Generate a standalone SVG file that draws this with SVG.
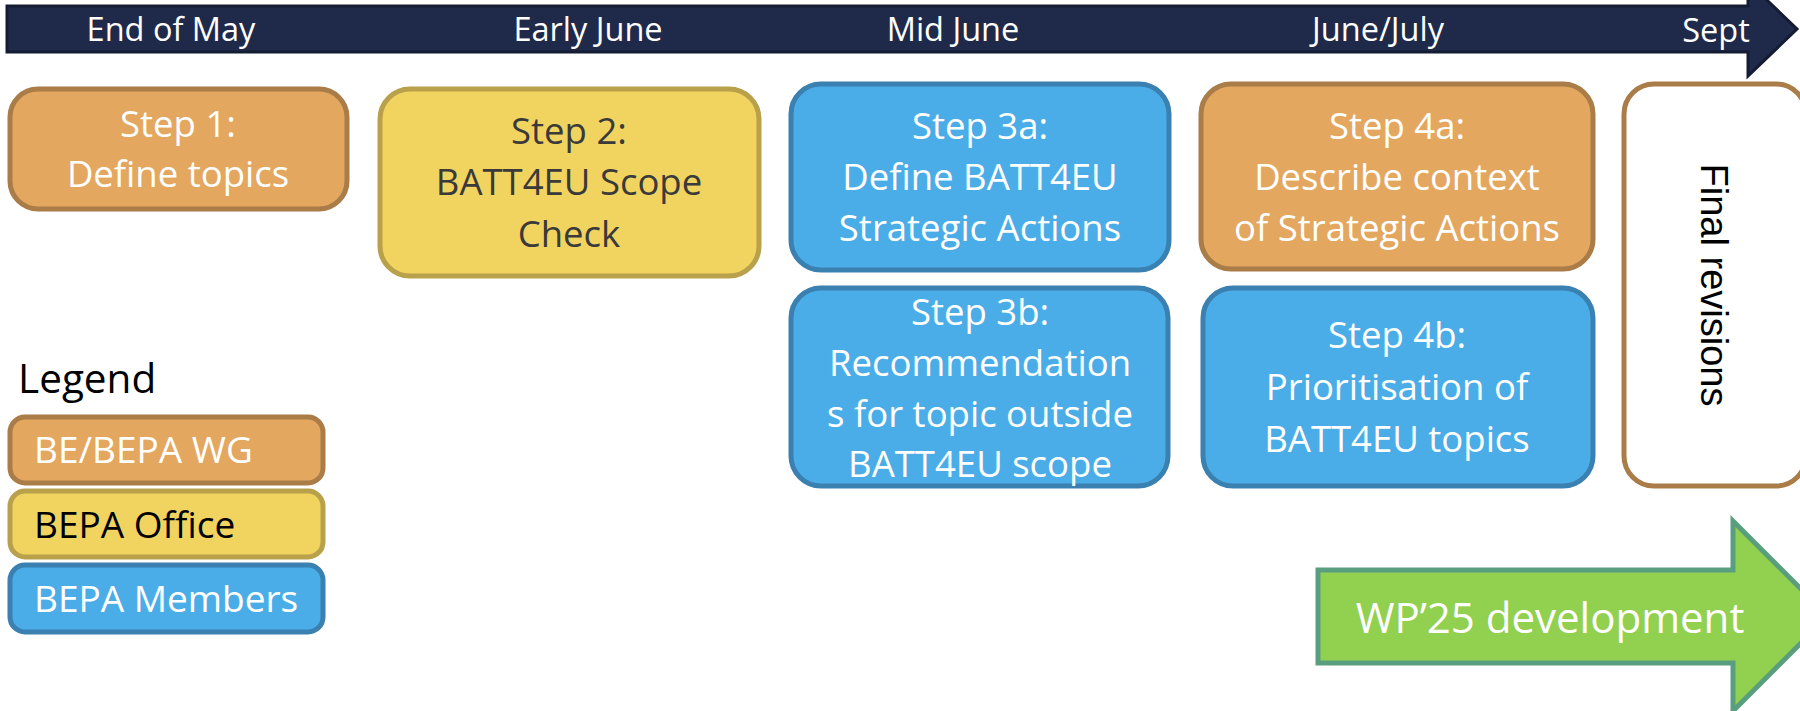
<svg xmlns="http://www.w3.org/2000/svg" width="1800" height="711" viewBox="0 0 1800 711">
<style>
  .t { font-family: "Open Sans", "Noto Sans", sans-serif; }
  .step { font-size: 36.5px; text-anchor: middle; fill: #ffffff; }
  .dark { fill: #3a3a3a; }
  .tl { font-size: 32.5px; text-anchor: middle; fill: #ffffff; }
  .orange { fill: #E3A75F; stroke: #A97C48; stroke-width: 5; }
  .yellow { fill: #F1D360; stroke: #B9A04A; stroke-width: 5; }
  .blue { fill: #4BADE8; stroke: #3A80B0; stroke-width: 5; }
  .leg { font-size: 37px; }
</style>

<g id="timeline">
  <polygon points="7,6 1748,6 1748,-18 1797,29 1748,76 1748,52 7,52" fill="#1F2A4A" stroke="#141C33" stroke-width="3"/>
  <text class="t tl" x="171" y="41">End of May</text>
  <text class="t tl" x="588" y="41">Early June</text>
  <text class="t tl" x="953" y="41">Mid June</text>
  <text class="t tl" x="1378" y="41">June/July</text>
  <text class="t tl" x="1716" y="42">Sept</text>
</g>

<g id="step1">
  <rect class="orange" x="10" y="89" width="337" height="120" rx="28"/>
  <text class="t step" x="178" y="137">Step 1:</text>
  <text class="t step" x="178" y="187">Define topics</text>
</g>

<g id="step2">
  <rect class="yellow" x="380" y="89" width="379" height="187" rx="30"/>
  <text class="t step dark" x="569" y="144">Step 2:</text>
  <text class="t step dark" x="569" y="195">BATT4EU Scope</text>
  <text class="t step dark" x="569" y="247">Check</text>
</g>

<g id="step3a">
  <rect class="blue" x="791" y="84" width="378" height="186" rx="30"/>
  <text class="t step" x="980" y="139">Step 3a:</text>
  <text class="t step" x="980" y="190">Define BATT4EU</text>
  <text class="t step" x="980" y="241">Strategic Actions</text>
</g>

<g id="step4a">
  <rect class="orange" x="1201" y="84" width="392" height="185" rx="30"/>
  <text class="t step" x="1397" y="139">Step 4a:</text>
  <text class="t step" x="1397" y="190">Describe context</text>
  <text class="t step" x="1397" y="241">of Strategic Actions</text>
</g>

<g id="step3b">
  <rect class="blue" x="791" y="288" width="377" height="198" rx="30"/>
  <text class="t step" x="980" y="325">Step 3b:</text>
  <text class="t step" x="980" y="376">Recommendation</text>
  <text class="t step" x="980" y="427">s for topic outside</text>
  <text class="t step" x="980" y="477">BATT4EU scope</text>
</g>

<g id="step4b">
  <rect class="blue" x="1203" y="288" width="390" height="198" rx="30"/>
  <text class="t step" x="1397" y="348">Step 4b:</text>
  <text class="t step" x="1397" y="400">Prioritisation of</text>
  <text class="t step" x="1397" y="452">BATT4EU topics</text>
</g>

<g id="final">
  <rect x="1624" y="84" width="182" height="402" rx="30" fill="#ffffff" stroke="#A97C48" stroke-width="5"/>
  <text x="0" y="0" transform="translate(1701,285) rotate(90)" font-family="Liberation Sans, Arial, sans-serif" font-size="38" text-anchor="middle" fill="#000000">Final revisions</text>
</g>

<g id="wp25">
  <polygon points="1318,570 1733,570 1733,521 1828,616 1733,711 1733,663 1318,663" fill="#92D050" stroke="#5A9E80" stroke-width="5"/>
  <text class="t" x="1550" y="633" font-size="42" text-anchor="middle" fill="#ffffff">WP’25 development</text>
</g>

<g id="legend">
  <text class="t" x="18" y="393" font-size="40.5" fill="#000000">Legend</text>
  <rect class="orange" x="10" y="417" width="313" height="66" rx="15" stroke-width="4"/>
  <text class="t leg" x="34" y="463" fill="#ffffff">BE/BEPA WG</text>
  <rect class="yellow" x="10" y="491" width="313" height="66" rx="15" stroke-width="4"/>
  <text class="t leg" x="34" y="538" fill="#000000">BEPA Office</text>
  <rect class="blue" x="10" y="565" width="313" height="67" rx="15" stroke-width="4"/>
  <text class="t leg" x="34" y="612" fill="#ffffff">BEPA Members</text>
</g>
</svg>
